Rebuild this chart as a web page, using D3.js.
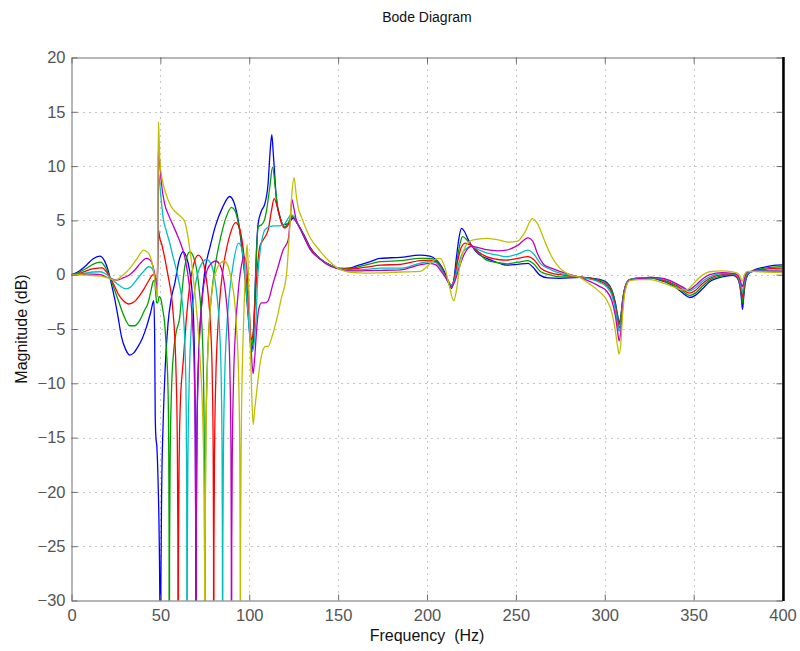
<!DOCTYPE html>
<html><head><meta charset="utf-8">
<script src="https://cdn.jsdelivr.net/npm/d3@7"></script>
<style>body{margin:0;background:#fff} svg{display:block} text{font-family:"Liberation Sans",Arial,Helvetica,sans-serif}</style>
</head><body><svg id="c" width="800" height="651"></svg>
<script>
const xTicks = [0,50,100,150,200,250,300,350,400];
const yTicks = [-30,-25,-20,-15,-10,-5,0,5,10,15,20];
const seriesNames = ["blue","green","red","cyan","magenta","yellow"];
const seriesColors = ["#0000ff","#00a000","#ff0000","#00bfbf","#bf00bf","#bfbf00"];

const blue = [[0,0],[4,0.3],[8.4,0.88],[12,1.45],[15.9,1.71],[18.5,1.3],[20.6,0.4],[22.5,-0.9],[24.4,-2.3],[26.3,-4.0],[28.1,-5.7],[30.5,-6.9],[32.8,-7.4],[35,-7.2],[37.5,-6.6],[40,-5.8],[42.2,-4.8],[44.5,-3.5],[46.3,-2.4],[46.8,-6],[47.1,-13],[47.5,-15],[48.0,-15.8],[48.7,-19],[49.4,-25],[49.8,-32],[50,-60],[50.3,-28],[50.8,-19],[51.5,-14],[52.5,-9.4],[54.3,-4.5],[56,-2.3],[58.1,-0.8],[60.5,1.3],[62.7,2.1],[64.5,1.7],[66.5,0.3],[68,-2.0],[69,-6],[69.6,-13],[69.85,-22],[70,-60],[70.2,-24],[70.6,-14],[71.5,-7.5],[73,-3],[75,0.3],[78,2.6],[81,4.5],[85,6.2],[89,7.2],[91.5,6.6],[94,4.8],[96.5,1.5],[98.5,-2],[100,-5],[101.2,-7.0],[102.3,-6.2],[103.1,-2.3],[104.0,2.0],[105,4.7],[106.9,5.9],[108.7,6.5],[110.6,8.4],[111.8,11.5],[112.7,12.9],[113.5,11.2],[114.2,9.5],[115.3,6.9],[117.2,5.4],[119,4.6],[121.9,4.7],[124.7,5.2],[127.5,4.6],[131,3.6],[134,2.6],[139.7,1.5],[145.3,0.9],[151,0.58],[156,0.6],[162,0.9],[168,1.2],[173.6,1.5],[185,1.6],[196,1.8],[201.6,1.7],[205,1.4],[207.2,1.0],[210,0.2],[212,-0.6],[213.8,-1.26],[215,-0.6],[216.5,1.5],[218,3.4],[219.4,4.26],[221,4.0],[223,3.3],[225,2.7],[229,1.9],[233.5,1.5],[240,1.1],[244.7,0.88],[251,0.95],[256.9,1.04],[259.5,0.7],[263.5,-0.04],[268,-0.3],[274.7,-0.34],[286,-0.25],[297,-0.43],[301,-0.7],[304,-1.4],[306,-2.6],[307.3,-3.8],[308.1,-4.4],[309,-3.9],[310,-2.4],[311.5,-1.1],[314,-0.45],[320,-0.3],[326,-0.3],[331,-0.5],[336,-0.8],[340,-1.2],[344,-1.7],[347.8,-2.1],[351,-1.9],[355,-1.3],[359,-0.65],[366,-0.2],[372,-0.05],[374.5,-0.3],[376,-1.0],[377,-2.4],[377.5,-3.2],[378,-2.4],[379,-0.8],[380.5,0],[383,0.35],[390,0.7],[395,0.85],[400,0.9]];

const green = [[0,0],[4,0.2],[8.4,0.58],[12,0.95],[16.3,1.16],[19,0.7],[21.5,-0.2],[23.8,-1.2],[26.2,-2.3],[29.5,-3.8],[32.8,-4.7],[35.5,-4.7],[38.4,-4.2],[41,-3.3],[43.1,-2.6],[44.8,-1.4],[46,-0.6],[46.8,-0.5],[47.3,-1.5],[47.9,-2.6],[48.5,-2.6],[49.3,-2.0],[50.2,-2.2],[51.3,-3.2],[52.3,-4.3],[53.4,-7],[54.3,-10.5],[54.7,-16],[54.9,-24],[55,-60],[55.15,-26],[55.5,-17],[56.2,-11],[57.5,-7],[59,-5.2],[60.9,-3.9],[62.2,-1.5],[63.6,0.6],[65,1.7],[66.6,2.1],[68.5,1.7],[70.5,0.4],[72,-1.6],[73.3,-4.5],[74.2,-9],[74.7,-16],[74.9,-25],[75,-60],[75.15,-25],[75.5,-16],[76.2,-9.5],[77.3,-5],[79,-1.5],[81,1.0],[84,3.5],[87,5.3],[90,6.2],[92,5.9],[94.5,4.2],[97,1.3],[99,-2.5],[100.3,-5.2],[101.3,-6.5],[102.3,-5.5],[103.2,-2.0],[104.1,2.0],[105,4.4],[106.9,4.6],[108.5,5.0],[109.7,5.9],[111.6,8.1],[113.1,9.9],[114.8,7.8],[116.3,5.9],[118,4.9],[120,4.4],[122,4.8],[124.3,5.4],[127.5,4.6],[131,3.5],[134,2.5],[139.7,1.5],[145.3,0.88],[151,0.58],[156,0.55],[162,0.75],[168,1.0],[173.6,1.2],[185,1.3],[196,1.5],[201.6,1.5],[205,1.3],[208,0.7],[211,-0.4],[213.8,-1.1],[215.3,-0.4],[217,1.4],[218.8,3.0],[220,3.5],[222.5,3.2],[225,2.7],[229,2.0],[233.5,1.35],[240,1.1],[244.7,1.0],[251,1.15],[256.9,1.3],[260,1.0],[264,0.27],[270,-0.05],[274.7,-0.2],[286,-0.22],[297,-0.5],[301,-0.8],[304,-1.5],[306,-2.8],[307.3,-4.0],[308.1,-4.6],[309,-4.0],[310,-2.5],[311.5,-1.1],[314,-0.45],[320,-0.3],[326,-0.3],[331,-0.45],[336,-0.75],[340,-1.1],[344,-1.55],[347.8,-1.9],[351,-1.7],[355,-1.05],[359,-0.5],[366,-0.1],[372,0],[374.5,-0.25],[376,-0.9],[377,-2.0],[377.5,-2.6],[378,-2.0],[379,-0.6],[380.5,0.05],[383,0.3],[390,0.6],[395,0.7],[400,0.75]];

const red = [[0,0],[4,0.1],[8.4,0.36],[12.5,0.55],[17.3,0.62],[19.5,0.3],[21.5,-0.2],[23.8,-0.9],[26.2,-1.75],[29.2,-2.4],[32.3,-2.7],[35.3,-2.5],[38.4,-1.9],[40.8,-1.3],[43.1,-0.65],[46,0],[47.2,-0.3],[48.2,-0.6],[48.7,2.5],[49.0,4.1],[49.6,3.4],[50.6,2.9],[52,1.9],[53.4,0.73],[54.9,-0.6],[56.3,-2.0],[57.2,-3.6],[58.1,-5.7],[58.9,-9.5],[59.5,-15],[59.85,-24],[60,-60],[60.15,-26],[60.5,-18],[61.2,-12],[62.8,-8.1],[64.5,-4.3],[66.5,-1.0],[68.5,0.8],[71.2,1.8],[73.5,1.4],[75.5,0],[77,-2],[78.3,-5],[79.2,-9.5],[79.7,-16],[79.9,-25],[80,-60],[80.15,-25],[80.5,-16],[81.2,-9.5],[82.3,-5],[84,-1.2],[86,1.3],[89,3.6],[92.3,4.8],[94.5,4.3],[96.5,2.5],[98.5,-0.8],[100,-3.8],[101.2,-6.0],[102.3,-5.2],[103.3,-2.5],[104.5,0.5],[105.9,2.56],[107.8,3.2],[110.6,4.1],[112.5,5.9],[114,7.0],[116.3,5.9],[118,4.8],[120,4.3],[122,4.6],[124.3,5.3],[127.5,4.6],[131,3.5],[134,2.5],[139.7,1.5],[145.3,0.88],[151,0.56],[156,0.5],[162,0.6],[168,0.75],[173.6,0.88],[185,0.95],[196,1.3],[201.6,1.35],[205,1.2],[208,0.6],[211,-0.3],[213.8,-0.95],[215.5,-0.3],[217.2,1.2],[219.5,2.6],[221.5,2.9],[223.5,2.8],[225,2.7],[229,2.1],[233.5,1.66],[240,1.4],[244.7,1.35],[251,1.5],[256.9,1.66],[260,1.4],[264,0.6],[270,0.15],[274.7,0],[286,-0.2],[297,-0.6],[301,-0.95],[304,-1.7],[306,-3.0],[307.3,-4.3],[308.1,-4.9],[309,-4.3],[310,-2.6],[311.5,-1.15],[314,-0.45],[320,-0.3],[326,-0.25],[331,-0.4],[336,-0.65],[340,-0.95],[344,-1.4],[347.8,-1.7],[351,-1.45],[355,-0.8],[359,-0.35],[366,0],[372,0.05],[374.5,-0.2],[376,-0.8],[377,-1.7],[377.5,-2.1],[378,-1.6],[379,-0.4],[380.5,0.1],[383,0.3],[390,0.5],[395,0.58],[400,0.6]];

const cyan = [[0,0],[4,0.05],[8.4,0.17],[12,0.25],[16.3,0.27],[19,0.1],[21.5,-0.2],[24,-0.6],[27,-1.0],[30.4,-1.3],[33.5,-1.1],[36.5,-0.5],[40,0.2],[43.5,0.73],[45.3,0.6],[46.5,0.1],[47.6,-0.6],[48.3,-1.2],[48.7,5],[49.0,9.3],[49.5,8.6],[50.3,7.2],[51.5,5.3],[53.4,4.0],[55.3,2.9],[57.2,1.6],[59.1,0.4],[60.5,-0.7],[61.9,-2.0],[63,-3.8],[63.9,-7],[64.5,-12],[64.8,-19],[65,-60],[65.15,-27],[65.5,-17],[66.2,-10],[67.5,-4.5],[69.5,-1.2],[72,0.6],[76,1.4],[78.5,1.0],[80.5,-0.3],[82,-2.2],[83.3,-5],[84.2,-9.5],[84.7,-16],[84.9,-25],[85,-60],[85.15,-25],[85.5,-16],[86.2,-9.5],[87.3,-5],[89,-1.5],[91,1.0],[94,2.9],[95.8,2.4],[97.5,0.3],[99.2,-3.2],[100.5,-6],[101.5,-7.1],[102.5,-6.6],[103.3,-5.2],[103.9,-3.9],[104.5,-1.1],[106,2.0],[107.5,3.5],[108.7,4.1],[111,4.4],[114,4.5],[117,4.5],[119.5,4.6],[121.5,5.1],[123.5,5.5],[125.5,5.3],[127.5,4.6],[131,3.4],[134,2.4],[139.7,1.5],[145.3,0.85],[151,0.55],[156,0.42],[162,0.45],[168,0.52],[173.6,0.6],[185,0.6],[196,1.05],[201.6,1.2],[205,1.1],[208,0.5],[211,-0.35],[213.8,-1.0],[215.5,-0.5],[217.5,0.8],[220,2.0],[223,2.5],[225,2.6],[229,2.3],[233.5,2.0],[240,1.8],[244.7,1.66],[251,1.9],[256.9,2.26],[260,1.9],[264,1.0],[270,0.45],[274.7,0.15],[286,-0.22],[297,-0.7],[301,-1.1],[304,-1.9],[306,-3.2],[307.3,-4.6],[308.1,-5.2],[309,-4.6],[310,-2.8],[311.5,-1.2],[314,-0.45],[320,-0.3],[326,-0.25],[331,-0.35],[336,-0.55],[340,-0.85],[344,-1.25],[347.5,-1.5],[351,-1.2],[355,-0.6],[359,-0.2],[366,0.1],[372,0.08],[374.5,-0.1],[376,-0.6],[377,-1.3],[377.5,-1.6],[378,-1.2],[379,-0.3],[380.5,0.15],[383,0.28],[390,0.4],[395,0.43],[400,0.45]];

const magenta = [[0,0],[4,0],[8.4,0.06],[12,0.05],[16.3,0],[21,-0.3],[25.7,-0.5],[29,-0.3],[32.8,0],[36,0.5],[39,1.1],[42.2,1.5],[44.5,1.3],[46,0.7],[47.3,-0.4],[48.3,-1.6],[48.7,7],[48.95,12.0],[49.5,10.6],[50.6,8.4],[52.3,6.6],[54.3,5.6],[57,4.6],[59.9,3.5],[62,2.6],[63.7,1.65],[65.3,0.2],[66.7,-1.6],[68,-4.3],[69,-8.5],[69.6,-15],[69.9,-25],[70,-60],[70.15,-25],[70.5,-16],[71.2,-9.5],[72.3,-5],[74,-1.5],[76.5,0.5],[79,1.1],[81.2,1.26],[83.5,0.9],[85.5,-0.3],[87,-2.2],[88.3,-5],[89.2,-9.5],[89.7,-16],[89.9,-25],[90,-60],[90.15,-25],[90.5,-16],[91.2,-9.5],[92.3,-5],[94,-1.2],[95.8,1.0],[97,1.65],[98.2,1.2],[99.5,-1.5],[100.7,-5.5],[101.6,-8.3],[102.2,-9.1],[103,-7.8],[104,-5.4],[105.2,-3.3],[106.9,-2.6],[108.8,-2.6],[110.6,-2.4],[113.4,-0.8],[116,0.6],[119,2.26],[121.9,3.2],[123,5.0],[124,6.9],[125,6.2],[126.5,5.0],[128.5,4.3],[131,3.4],[134,2.4],[139.7,1.45],[145.3,0.8],[151,0.5],[156,0.35],[162,0.35],[168,0.38],[173.6,0.4],[185,0.45],[196,0.9],[201.6,1.05],[205,0.9],[208,0.3],[211,-0.4],[213.8,-1.1],[215.7,-0.6],[218,0.6],[221,1.9],[225,2.6],[229,2.5],[233.5,2.3],[240,2.2],[244.7,2.26],[251,2.7],[256.9,3.4],[259.5,3.1],[262,2.0],[266,0.9],[270,0.6],[274.7,0.3],[286,-0.25],[297,-1.07],[301,-1.5],[304,-2.4],[306,-3.8],[307.3,-5.3],[308.1,-6.1],[309,-5.3],[310,-3.1],[311.5,-1.3],[314,-0.5],[320,-0.35],[326,-0.25],[331,-0.3],[336,-0.5],[340,-0.8],[344,-1.15],[347,-1.4],[351,-1.0],[355,-0.4],[359,0],[366,0.2],[372,0.12],[374.5,0],[376,-0.4],[377,-0.95],[377.5,-1.1],[378,-0.8],[379,-0.1],[380.5,0.25],[383,0.3],[390,0.32],[395,0.33],[400,0.33]];

const yellow = [[0,0],[4,0],[8.4,-0.03],[12,-0.08],[16.3,-0.13],[20.5,-0.3],[24.7,-0.5],[28.5,-0.1],[32.8,0.58],[36.5,1.4],[40.7,2.26],[42.5,2.1],[44,1.8],[45.5,1.0],[46.7,-0.2],[47.7,-1.5],[48.3,-2.0],[48.6,6],[48.9,14.1],[49.3,12.5],[49.7,10.5],[51,8.8],[52.5,7.8],[54.3,6.9],[56.2,6.24],[59,5.7],[61.8,5.3],[63.7,4.87],[65.2,3.8],[66.6,2.3],[68,0.5],[69.3,-1.5],[71,-4.5],[72.6,-8.5],[73.8,-13],[74.6,-20],[74.9,-28],[75,-60],[75.15,-26],[75.5,-17],[76.2,-10],[77.5,-4.5],[79.5,-1],[82,0.6],[84,1.1],[86,1.26],[88,0.8],[90,-0.5],[91.8,-2.5],[93.1,-5.5],[94.1,-10],[94.7,-17],[94.9,-26],[95,-60],[95.15,-24],[95.5,-15],[96.2,-8],[97.2,-2.5],[98.1,1.2],[98.8,2.8],[99.4,0.8],[100.2,-4],[101.2,-10],[102.2,-13.8],[103,-12.5],[104.1,-10.9],[105.8,-8.5],[107.8,-6.9],[109.2,-6.6],[110.6,-6.6],[113,-5.6],[115.3,-4.2],[118,-2.2],[121,0.1],[122.8,4.4],[124,7.5],[125.2,8.94],[126.6,7.1],[127.8,6.0],[129.4,5.3],[131.5,4.4],[134,3.5],[139.7,2.2],[145.3,1.2],[151,0.5],[156,0.25],[162,0.17],[168,0.15],[173.6,0.17],[185,0.25],[196,0.3],[201,0.9],[204.5,1.4],[207.2,1.5],[210,0.7],[212.5,-1.0],[215,-2.4],[216.5,-1.5],[218.5,0.8],[222,2.7],[226,3.2],[233.5,3.35],[240,3.2],[246,3.0],[251,3.1],[255,3.9],[259.3,5.17],[262.5,4.6],[265,3.6],[267.2,2.7],[270,1.7],[274.7,0.6],[280,0],[286,-0.25],[291,-0.8],[297,-1.56],[301,-2.3],[304,-3.5],[306,-5.2],[307.3,-6.7],[308.1,-7.3],[309,-6.4],[310,-3.8],[311.5,-1.5],[314,-0.55],[320,-0.45],[326,-0.45],[331,-0.65],[336,-0.95],[340,-1.2],[343.5,-1.4],[346,-1.4],[349,-1.0],[353,-0.3],[359,0.27],[366,0.35],[372,0.25],[374.5,0.15],[376,-0.1],[377,-0.5],[377.5,-0.6],[378,-0.3],[379,0.15],[380.5,0.3],[383,0.3],[390,0.25],[395,0.22],[400,0.2]];

const seriesData = [blue, green, red, cyan, magenta, yellow];

const svg = d3.select("#c");
const L = 71.5, R = 782.5, T = 57.5, B = 600.5;
const x = d3.scaleLinear().domain([0, 400]).range([L, R]);
const y = d3.scaleLinear().domain([-30, 20]).range([B, T]);

svg.append("defs").append("clipPath").attr("id","clip")
  .append("rect").attr("x", L).attr("y", T).attr("width", R - L).attr("height", B - T);

// grid
const grid = svg.append("g").attr("stroke", "#8a8a8a").attr("stroke-width", 1).attr("stroke-dasharray", "1,5");
grid.selectAll("line.v").data(xTicks.slice(1, -1)).join("line")
  .attr("x1", d => Math.round(x(d)) + 0.5).attr("x2", d => Math.round(x(d)) + 0.5)
  .attr("y1", T).attr("y2", B);
grid.selectAll("line.h").data(yTicks.slice(1, -1)).join("line")
  .attr("y1", d => Math.round(y(d)) + 0.5).attr("y2", d => Math.round(y(d)) + 0.5)
  .attr("x1", L).attr("x2", R);

// series
const line = d3.line().x(d => x(d[0])).y(d => y(d[1])).curve(d3.curveMonotoneX);
svg.append("g").attr("clip-path", "url(#clip)")
  .selectAll("path").data(seriesData).join("path")
  .attr("fill", "none").attr("stroke", (d, i) => seriesColors[i]).attr("stroke-width", 1.3)
  .attr("d", line);

// axes
const axColor = "#6e6e6e";
const fmt = d => d < 0 ? "\u2212" + Math.abs(d) : String(d);
const gx = svg.append("g").attr("transform", `translate(0,${B})`)
  .call(d3.axisBottom(x).tickValues(xTicks).tickSizeInner(-6).tickSizeOuter(0).tickPadding(9).tickFormat(fmt));
const gy = svg.append("g").attr("transform", `translate(${L},0)`)
  .call(d3.axisLeft(y).tickValues(yTicks).tickSizeInner(-6).tickSizeOuter(0).tickPadding(6).tickFormat(fmt));
const gxt = svg.append("g").attr("transform", `translate(0,${T})`)
  .call(d3.axisTop(x).tickValues(xTicks).tickSizeInner(-6).tickSizeOuter(0).tickFormat(""));
const gyr = svg.append("g").attr("transform", `translate(${R},0)`)
  .call(d3.axisRight(y).tickValues(yTicks).tickSizeInner(-6).tickSizeOuter(0).tickFormat(""));
[gx, gy, gxt, gyr].forEach(g => {
  g.selectAll("path.domain").attr("stroke", axColor);
  g.selectAll(".tick line").attr("stroke", axColor);
  g.selectAll("text").attr("fill", "#555").attr("font-size", 16.5)
    .attr("font-family", '"Liberation Sans",Arial,Helvetica,sans-serif');
});
// right border drawn dark and heavy as in the reference
svg.append("line").attr("x1", R + 1).attr("x2", R + 1).attr("y1", T - 0.5).attr("y2", B + 0.5)
  .attr("stroke", "#000").attr("stroke-width", 2.5);

// labels
svg.append("text").attr("x", (L + R) / 2).attr("y", 22).attr("text-anchor", "middle")
  .attr("font-size", 14).attr("fill", "#111").text("Bode Diagram");
svg.append("text").attr("x", (L + R) / 2).attr("y", 641).attr("text-anchor", "middle")
  .attr("font-size", 16).attr("fill", "#111").attr("xml:space", "preserve").style("white-space", "pre").text("Frequency  (Hz)");
svg.append("text").attr("transform", `translate(27,${(T + B) / 2}) rotate(-90)`).attr("text-anchor", "middle")
  .attr("font-size", 16).attr("fill", "#111").text("Magnitude (dB)");
</script></body></html>
